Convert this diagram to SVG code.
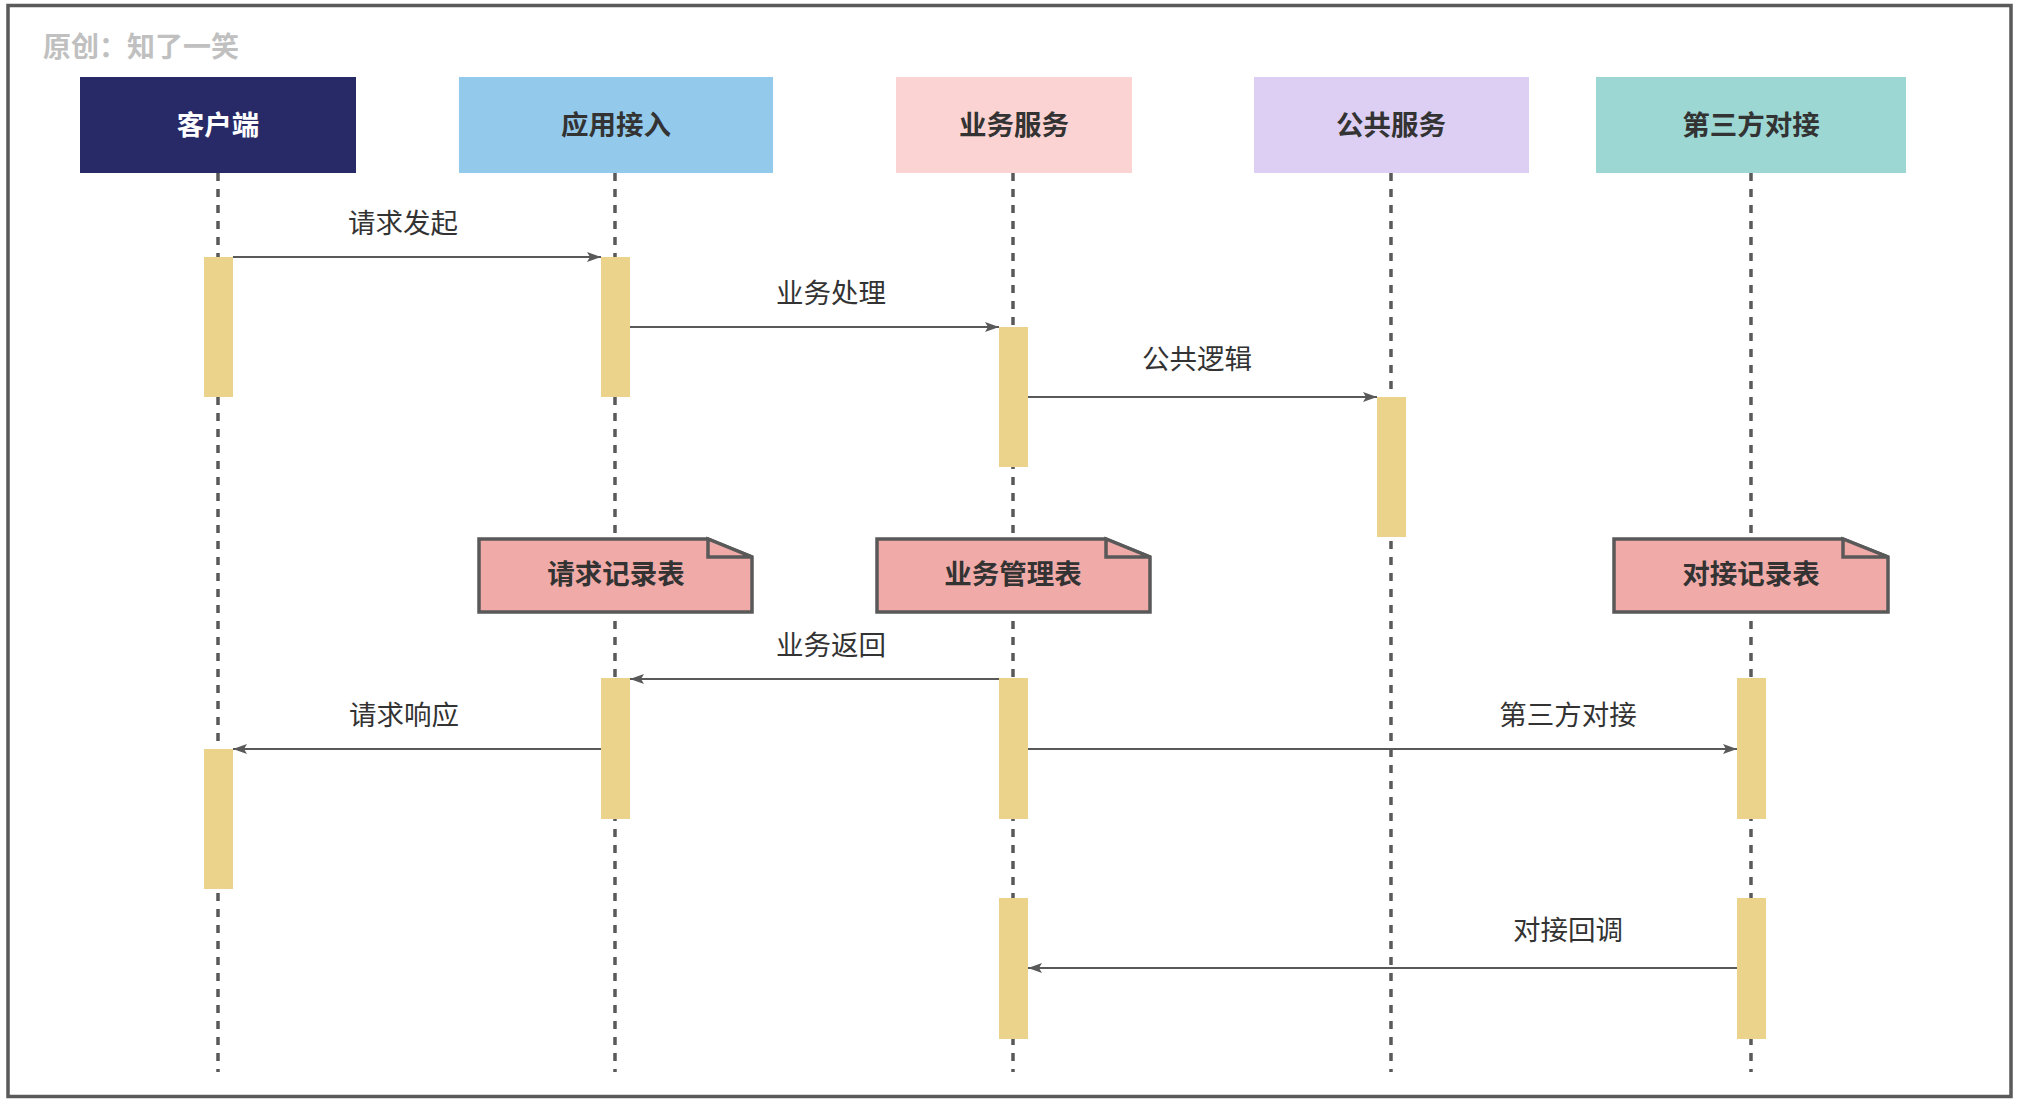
<svg xmlns="http://www.w3.org/2000/svg" width="2020" height="1102" viewBox="0 0 2020 1102">
<defs>
<style>
.title{font-family:"Noto Sans CJK SC","Noto Sans",sans-serif;font-size:28px;font-weight:bold;fill:#c0c0c0}
.box{stroke:none}
.blabel{font-family:"Noto Sans CJK SC","Noto Sans",sans-serif;font-size:27.5px;font-weight:bold;fill:#333333;text-anchor:middle}
.life{stroke:#595959;stroke-width:3.5;stroke-dasharray:8 8;fill:none}
.act{fill:#ebd38c}
.msg{stroke:#595959;stroke-width:2;fill:none;marker-end:url(#arr)}
.mlabel{font-family:"Noto Sans CJK SC","Noto Sans",sans-serif;font-size:27.5px;fill:#333333;text-anchor:middle}
.note{fill:#f0aba9;stroke:#595959;stroke-width:3.5;stroke-linejoin:miter}
.fold{fill:#f0aba9;stroke:#595959;stroke-width:3.5}
</style>
<marker id="arr" viewBox="0 0 14 10" refX="14" refY="5" markerWidth="14" markerHeight="10" markerUnits="userSpaceOnUse" orient="auto">
<path d="M0,0 L14,5 L0,10 L3,5 Z" fill="#595959"/>
</marker>
</defs>
<rect width="2020" height="1102" fill="#ffffff"/>
<rect x="8" y="5.5" width="2003" height="1091" fill="none" stroke="#5a5a5a" stroke-width="3.5"/>
<text class="title" x="43" y="57">原创：知了一笑</text>

<g id="lifelines">
<line class="life" x1="218" y1="173" x2="218" y2="1072"/>
<line class="life" x1="615" y1="173" x2="615" y2="1072"/>
<line class="life" x1="1013" y1="173" x2="1013" y2="1072"/>
<line class="life" x1="1391" y1="173" x2="1391" y2="1072"/>
<line class="life" x1="1751" y1="173" x2="1751" y2="1072"/>
</g>

<g id="client">
<rect class="box" x="80" y="77" width="276" height="96" fill="#272a67"/>
<text class="blabel" x="218" y="135" style="fill:#ffffff">客户端</text>
</g>
<g id="app">
<rect class="box" x="459" y="77" width="314" height="96" fill="#93caec"/>
<text class="blabel" x="616" y="135">应用接入</text>
</g>
<g id="biz">
<rect class="box" x="896" y="77" width="236" height="96" fill="#fbd3d2"/>
<text class="blabel" x="1014" y="135">业务服务</text>
</g>
<g id="public">
<rect class="box" x="1254" y="77" width="275" height="96" fill="#dccff3"/>
<text class="blabel" x="1391" y="135">公共服务</text>
</g>
<g id="third">
<rect class="box" x="1596" y="77" width="310" height="96" fill="#9cd7d3"/>
<text class="blabel" x="1751" y="135">第三方对接</text>
</g>

<g id="activations">
<rect class="act" x="204" y="257" width="29" height="140"/>
<rect class="act" x="601" y="257" width="29" height="140"/>
<rect class="act" x="999" y="327" width="29" height="140"/>
<rect class="act" x="1377" y="397" width="29" height="140"/>
<rect class="act" x="601" y="678" width="29" height="141"/>
<rect class="act" x="999" y="678" width="29" height="141"/>
<rect class="act" x="1737" y="678" width="29" height="141"/>
<rect class="act" x="204" y="749" width="29" height="140"/>
<rect class="act" x="999" y="898" width="29" height="141"/>
<rect class="act" x="1737" y="898" width="29" height="141"/>
</g>

<g id="note-request">
<path class="note" d="M479,539 H708 L752,557 V612 H479 Z"/>
<path class="fold" d="M708,539 V557 H752 Z"/>
<text class="blabel" x="616" y="584">请求记录表</text>
</g>
<g id="note-biz">
<path class="note" d="M877,539 H1106 L1150,557 V612 H877 Z"/>
<path class="fold" d="M1106,539 V557 H1150 Z"/>
<text class="blabel" x="1013" y="584">业务管理表</text>
</g>
<g id="note-third">
<path class="note" d="M1614,539 H1843 L1888,557 V612 H1614 Z"/>
<path class="fold" d="M1843,539 V557 H1888 Z"/>
<text class="blabel" x="1751" y="584">对接记录表</text>
</g>

<g id="connectors">
<line class="msg" x1="233" y1="257" x2="601" y2="257"/>
<line class="msg" x1="630" y1="327" x2="999" y2="327"/>
<line class="msg" x1="1028" y1="397" x2="1377" y2="397"/>
<line class="msg" x1="999" y1="679" x2="630" y2="679"/>
<line class="msg" x1="601" y1="749" x2="233" y2="749"/>
<line class="msg" x1="1028" y1="749" x2="1737" y2="749"/>
<line class="msg" x1="1737" y1="968" x2="1028" y2="968"/>
<text class="mlabel" x="403" y="233">请求发起</text>
<text class="mlabel" x="831" y="303">业务处理</text>
<text class="mlabel" x="1197" y="369">公共逻辑</text>
<text class="mlabel" x="831" y="655">业务返回</text>
<text class="mlabel" x="404" y="725">请求响应</text>
<text class="mlabel" x="1568" y="725">第三方对接</text>
<text class="mlabel" x="1568" y="940">对接回调</text>
</g>
</svg>
